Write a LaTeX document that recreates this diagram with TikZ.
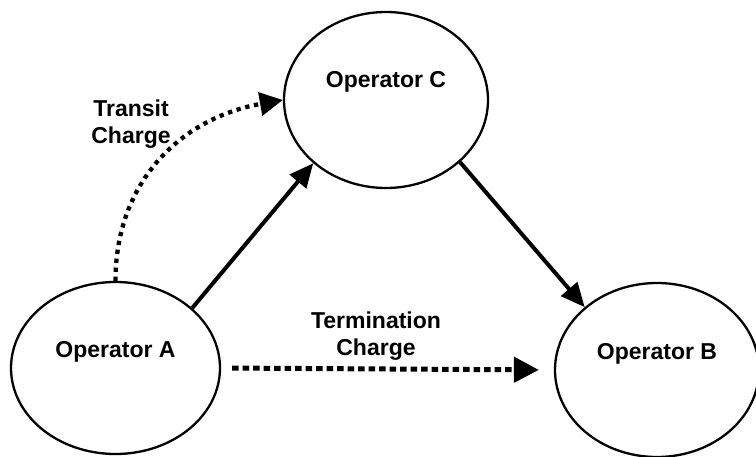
\documentclass[tikz,border=0pt]{standalone}
\usepackage{fontspec}
\setmainfont{Liberation Sans}
\usetikzlibrary{arrows.meta,shapes.geometric}
\begin{document}
\begin{tikzpicture}[x=1pt,y=-1pt,
  txt/.style={font=\bfseries\fontsize{23}{27}\selectfont},
  op/.style={ellipse,draw,line width=2.3pt,inner sep=0pt,txt,text height=16pt,text depth=36pt},
  lbl/.style={txt,align=center,inner sep=0pt},
  solidarrow/.style={line width=4pt,-{Triangle[length=24pt,width=21pt]}},
  dotarrow/.style={line width=5pt,dash pattern=on 6.5pt off 4pt,-{Triangle[length=25pt,width=25pt]}},
  transarrow/.style={line width=4.3pt,dash pattern=on 4.3pt off 4.7pt,-{Triangle[length=23pt,width=23pt]}}]
\useasboundingbox (0,0) rectangle (756,457);
\node[op,minimum width=209pt,minimum height=172pt] (A) at (115.5,368) {Operator A};
\node[op,minimum width=204pt,minimum height=174pt] (B) at (657,370) {Operator B};
\node[op,minimum width=204pt,minimum height=176pt,text depth=40pt] (C) at (386,100) {Operator C};
\node[lbl] (tl) at (131,124.6) {Transit\\Charge};
\node[lbl] (ml) at (376,335.7) {Termination\\Charge};
\draw[solidarrow] (A.38) -- (C.221.6);
\draw[solidarrow] (C.320.3) -- (B.139.4);
\draw[dotarrow,shorten <=11pt,shorten >=15pt] (A.east) -- (B.west);
\draw[transarrow] (A.north) to[out=90,in=190,looseness=1.05] (C.west);
\end{tikzpicture}
\end{document}
